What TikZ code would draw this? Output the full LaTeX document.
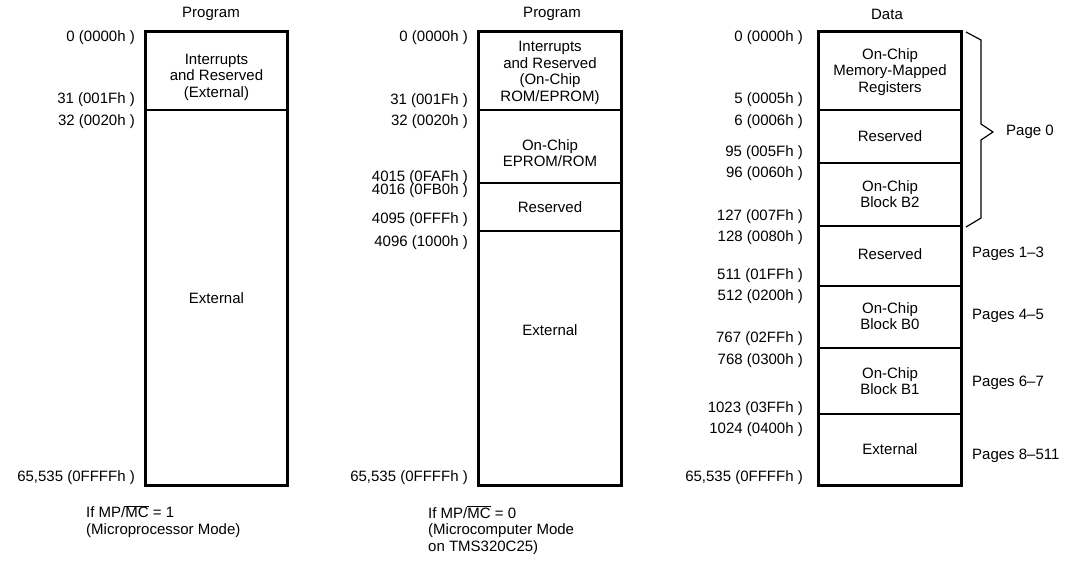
\documentclass[tikz,border=0pt]{standalone}
\usepackage{fontspec}
\setmainfont{Liberation Sans}
\begin{document}
\begin{tikzpicture}[x=1pt,y=-1pt,
  font=\fontsize{15}{16.5}\selectfont,
  region/.style={draw, line width=1.8pt, minimum width=141pt, inner sep=0pt},
  outer/.style={draw, line width=3pt},
  txt/.style={align=center, inner sep=0pt},
  addr/.style={anchor=east, inner sep=0pt},
  pg/.style={anchor=west, inner sep=0pt},
  note/.style={anchor=west, align=left, inner sep=0pt},
  brace/.style={draw, line width=1.2pt}]
\useasboundingbox (0,0) rectangle (1069,560);

% ---------- left column ----------
\node[txt] (Lt) at (211,14) {Program};
\node[region, minimum height=78pt] (L1) at (216.5,71) {};
\node[region, minimum height=375pt] (L2) at (216.5,297.5) {};
\draw[outer] (L1.north west) rectangle (L2.south east);
\node[txt] (L1t) at (216.5,77) {Interrupts\\and Reserved\\(External)};
\node[txt] (L2t) at (216.5,298) {External};
\node[addr] (La0) at (135,38) {0 (0000h )};
\node[addr] (La1) at (135,100) {31 (001Fh )};
\node[addr] (La2) at (135,122) {32 (0020h )};
\node[addr] (La3) at (135,478) {65,535 (0FFFFh )};
\node[note] (Ln) at (86,521.5) {If MP/\(\overline{\mbox{MC}}\) = 1\\(Microprocessor Mode)};

% ---------- middle column ----------
\node[txt] (Mt) at (552,14) {Program};
\node[region, minimum height=78pt] (M1) at (550,71) {};
\node[region, minimum height=73pt] (M2) at (550,146.5) {};
\node[region, minimum height=48pt] (M3) at (550,207) {};
\node[region, minimum height=254pt] (M4) at (550,358) {};
\draw[outer] (M1.north west) rectangle (M4.south east);
\node[txt] (M1t) at (550,73) {Interrupts\\and Reserved\\(On-Chip\\ROM/EPROM)};
\node[txt] (M2t) at (550,153) {On-Chip\\EPROM/ROM};
\node[txt] (M3t) at (550,207) {Reserved};
\node[txt] (M4t) at (550,330) {External};
\node[addr] (Ma0) at (468,38) {0 (0000h )};
\node[addr] (Ma1) at (468,101) {31 (001Fh )};
\node[addr] (Ma2) at (468,122) {32 (0020h )};
\node[addr] (Ma3) at (468,178) {4015 (0FAFh )};
\node[addr] (Ma4) at (468,191) {4016 (0FB0h )};
\node[addr] (Ma5) at (468,220) {4095 (0FFFh )};
\node[addr] (Ma6) at (468,243) {4096 (1000h )};
\node[addr] (Ma7) at (468,478) {65,535 (0FFFFh )};
\node[note] (Mn) at (428,530) {If MP/\(\overline{\mbox{MC}}\) = 0\\(Microcomputer Mode\\on TMS320C25)};

% ---------- right column ----------
\node[txt] (Rt) at (887,14) {Data};
\node[region, minimum height=78pt] (R1) at (890,71) {};
\node[region, minimum height=53pt] (R2) at (890,136.5) {};
\node[region, minimum height=63pt] (R3) at (890,194.5) {};
\node[region, minimum height=60pt] (R4) at (890,256) {};
\node[region, minimum height=62pt] (R5) at (890,317) {};
\node[region, minimum height=66pt] (R6) at (890,381) {};
\node[region, minimum height=71pt] (R7) at (890,449.5) {};
\draw[outer] (R1.north west) rectangle (R7.south east);
\node[txt] (R1t) at (890,72) {On-Chip\\Memory-Mapped\\Registers};
\node[txt] (R2t) at (890,136) {Reserved};
\node[txt] (R3t) at (890,194) {On-Chip\\Block B2};
\node[txt] (R4t) at (890,254) {Reserved};
\node[txt] (R5t) at (890,316) {On-Chip\\Block B0};
\node[txt] (R6t) at (890,381) {On-Chip\\Block B1};
\node[txt] (R7t) at (890,449) {External};
\node[addr] (Ra0) at (803,38) {0 (0000h )};
\node[addr] (Ra1) at (803,100) {5 (0005h )};
\node[addr] (Ra2) at (803,122) {6 (0006h )};
\node[addr] (Ra3) at (803,153) {95 (005Fh )};
\node[addr] (Ra4) at (803,174) {96 (0060h )};
\node[addr] (Ra5) at (803,217) {127 (007Fh )};
\node[addr] (Ra6) at (803,238) {128 (0080h )};
\node[addr] (Ra7) at (803,276) {511 (01FFh )};
\node[addr] (Ra8) at (803,297) {512 (0200h )};
\node[addr] (Ra9) at (803,339) {767 (02FFh )};
\node[addr] (Ra10) at (803,361) {768 (0300h )};
\node[addr] (Ra11) at (803,409) {1023 (03FFh )};
\node[addr] (Ra12) at (803,430) {1024 (0400h )};
\node[addr] (Ra13) at (803,478) {65,535 (0FFFFh )};

% brace for page 0
\coordinate (b1) at (966,32);
\coordinate (b2) at (966,227);
\draw[brace] (b1) -- (981,40) -- (981,124) -- (993,132) -- (981,140) -- (981,218) -- (b2);
\node[pg] (P0) at (1006,132) {Page 0};
\node[pg] (P1) at (972,254) {Pages 1--3};
\node[pg] (P2) at (972,316) {Pages 4--5};
\node[pg] (P3) at (972,383) {Pages 6--7};
\node[pg] (P4) at (972,456) {Pages 8--511};
\end{tikzpicture}
\end{document}
